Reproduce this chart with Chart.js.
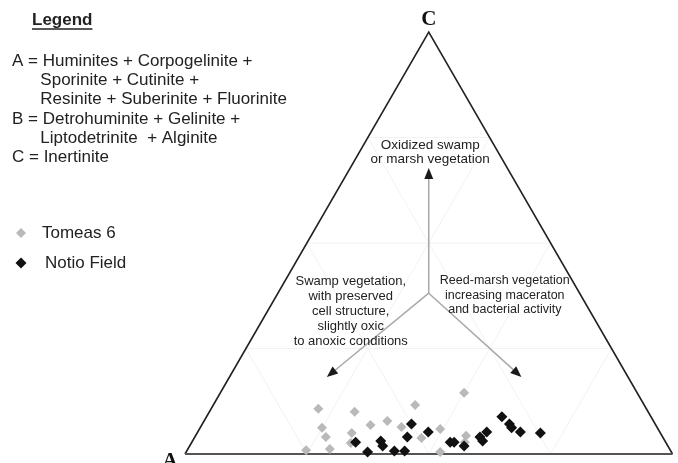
<!DOCTYPE html>
<html>
<head>
<meta charset="utf-8">
<script src="https://cdn.jsdelivr.net/npm/chart.js@4"></script>
<style>
  html, body { margin: 0; padding: 0; background: #fff; }
  canvas { display: block; }
</style>
</head>
<body>
<canvas id="myChart1" width="678" height="463"></canvas>
<script>
// ternary compositions in % (A, B, C)
const tomeasA = [67.3, 60.2, 68.8, 69.1, 74.7, 69.7, 63.3, 64.7, 58.5, 54.6, 52.4, 47.0, 49.6, 44.7, 47.4, 35.5, 40.2, 41.2];
const tomeasB = [22.0, 29.8, 25.0, 26.9, 24.4, 29.1, 31.7, 32.7, 34.6, 37.6, 41.2, 41.4, 46.6, 49.4, 52.1, 50.0, 55.5, 56.0];
const tomeasC = [10.7, 10.0, 6.2, 4.0, 0.9, 1.2, 5.0, 2.6, 6.9, 7.8, 6.4, 11.6, 3.8, 5.9, 0.5, 14.5, 4.3, 2.8];

const notioA = [63.6, 62.3, 58.3, 58.5, 56.7, 54.6, 50.0, 52.4, 47.5, 44.2, 43.4, 41.8, 37.5, 37.4, 35.5, 30.6, 29.9, 29.9, 28.6, 24.6];
const notioB = [33.6, 37.2, 38.6, 39.6, 42.6, 44.7, 42.9, 43.6, 47.3, 53.0, 53.8, 56.3, 58.5, 59.5, 59.3, 60.6, 63.0, 63.9, 66.2, 70.4];
const notioC = [2.8, 0.5, 3.1, 1.9, 0.7, 0.7, 7.1, 4.0, 5.2, 2.8, 2.8, 1.9, 4.0, 3.1, 5.2, 8.8, 7.1, 6.2, 5.2, 5.0];

const seriesNames = ['Tomeas 6', 'Notio Field'];
const cornerLabels = ['A', 'B', 'C'];

const legendLines = [
    'A = Huminites + Corpogelinite +',
    '      Sporinite + Cutinite +',
    '      Resinite + Suberinite + Fluorinite',
    'B = Detrohuminite + Gelinite +',
    '      Liptodetrinite  + Alginite',
    'C = Inertinite'
];
const noteTop = ['Oxidized swamp', 'or marsh vegetation'];
const noteLeft = ['Swamp vegetation,', 'with preserved', 'cell structure,', 'slightly oxic', 'to anoxic conditions'];
const noteRight = ['Reed-marsh vegetation', 'increasing maceraton', 'and bacterial activity'];

const H = Math.sqrt(3) / 2;

// A at (0,0), B at (100,0), C at (50, 86.6)
function toXY(a, b, c) {
    return a.map((v, i) => {
        const t = a[i] + b[i] + c[i];
        const bb = b[i] / t * 100, cc = c[i] / t * 100;
        return { x: bb + cc / 2, y: cc * H };
    });
}
function tern(a, b, c) {
    return { x: b + c / 2, y: c * H };
}

const ternaryPlugin = {
    id: 'ternary',
    beforeDatasetsDraw(chart) {
        const ctx = chart.ctx;
        const xs = chart.scales.x, ys = chart.scales.y;
        const px = p => [xs.getPixelForValue(p.x), ys.getPixelForValue(p.y)];
        ctx.save();

        // faint grid
        ctx.strokeStyle = '#f2f2f2';
        ctx.lineWidth = 1;
        [25, 50, 75].forEach(f => {
            const pairs = [
                [tern(100 - f, 0, f), tern(0, 100 - f, f)],
                [tern(f, 100 - f, 0), tern(f, 0, 100 - f)],
                [tern(100 - f, f, 0), tern(0, f, 100 - f)]
            ];
            pairs.forEach(([p, q]) => {
                const a = px(p), b = px(q);
                ctx.beginPath(); ctx.moveTo(a[0], a[1]); ctx.lineTo(b[0], b[1]); ctx.stroke();
            });
        });

        // triangle
        const pA = px(tern(100, 0, 0)), pB = px(tern(0, 100, 0)), pC = px(tern(0, 0, 100));
        ctx.strokeStyle = '#222';
        ctx.lineWidth = 1.6;
        ctx.beginPath();
        ctx.moveTo(pA[0], pA[1]); ctx.lineTo(pC[0], pC[1]); ctx.lineTo(pB[0], pB[1]);
        ctx.stroke();
        ctx.strokeStyle = '#555';
        ctx.lineWidth = 2.2;
        ctx.beginPath(); ctx.moveTo(pA[0], pA[1]); ctx.lineTo(pB[0], pB[1]); ctx.stroke();

        // corner labels
        ctx.fillStyle = '#111';
        ctx.font = 'bold 21px "Liberation Serif", serif';
        ctx.textAlign = 'center';
        ctx.textBaseline = 'alphabetic';
        ctx.fillText(cornerLabels[2], pC[0], pC[1] - 7);
        ctx.fillText(cornerLabels[0], pA[0] - 15, pA[1] + 13);

        // arrows
        const centre = px({ x: 50, y: 33 });
        const tips = [px({ x: 50, y: 58.7 }), px({ x: 29.1, y: 15.8 }), px({ x: 69.0, y: 15.8 })];
        tips.forEach(t => {
            const ang = Math.atan2(t[1] - centre[1], t[0] - centre[0]);
            const len = 11, wid = 4.5;
            const bx = t[0] - Math.cos(ang) * len, by = t[1] - Math.sin(ang) * len;
            ctx.strokeStyle = '#a8a8a8';
            ctx.lineWidth = 1.5;
            ctx.beginPath(); ctx.moveTo(centre[0], centre[1]); ctx.lineTo(bx, by); ctx.stroke();
            ctx.fillStyle = '#1a1a1a';
            ctx.beginPath();
            ctx.moveTo(t[0], t[1]);
            ctx.lineTo(bx - Math.sin(ang) * wid, by + Math.cos(ang) * wid);
            ctx.lineTo(bx + Math.sin(ang) * wid, by - Math.cos(ang) * wid);
            ctx.closePath();
            ctx.fill();
        });

        // notes
        ctx.fillStyle = '#222';
        ctx.textBaseline = 'middle';
        ctx.textAlign = 'center';
        ctx.font = '13.5px "Liberation Sans", Arial, sans-serif';
        let p = px({ x: 50.3, y: 63.4 });
        noteTop.forEach((s, i) => ctx.fillText(s, p[0], p[1] + i * 14));
        ctx.font = '13px "Liberation Sans", Arial, sans-serif';
        p = px({ x: 34.0, y: 35.5 });
        noteLeft.forEach((s, i) => ctx.fillText(s, p[0], p[1] + i * 15));
        ctx.font = '12.5px "Liberation Sans", Arial, sans-serif';
        p = px({ x: 65.6, y: 35.5 });
        noteRight.forEach((s, i) => ctx.fillText(s, p[0], p[1] + i * 14.5));

        // legend block
        ctx.textAlign = 'left';
        ctx.fillStyle = '#222';
        ctx.font = 'bold 17px "Liberation Sans", Arial, sans-serif';
        ctx.fillText('Legend', 32, 20);
        const w = ctx.measureText('Legend').width;
        ctx.strokeStyle = '#222';
        ctx.lineWidth = 1.3;
        ctx.beginPath(); ctx.moveTo(32, 29); ctx.lineTo(32 + w, 29); ctx.stroke();

        ctx.font = '17px "Liberation Sans", Arial, sans-serif';
        legendLines.forEach((s, i) => ctx.fillText(s, 12, 61 + i * 19.3));

        chart.data.datasets.forEach((ds, i) => {
            const y = 233 + i * 30;
            const r = ds.pointRadius;
            ctx.fillStyle = ds.backgroundColor;
            ctx.beginPath();
            ctx.moveTo(21, y - r); ctx.lineTo(21 + r, y);
            ctx.lineTo(21, y + r); ctx.lineTo(21 - r, y);
            ctx.closePath(); ctx.fill();
            ctx.fillStyle = '#222';
            ctx.fillText(ds.label, 42 + i * 3, y);
        });

        ctx.restore();
    }
};

const data = {
    datasets: [{
        label: seriesNames[0],
        data: toXY(tomeasA, tomeasB, tomeasC),
        pointStyle: 'rectRot',
        pointRadius: 5,
        backgroundColor: '#b9b9b9',
        borderColor: '#b9b9b9',
        borderWidth: 0,
        order: 1
    }, {
        label: seriesNames[1],
        data: toXY(notioA, notioB, notioC),
        pointStyle: 'rectRot',
        pointRadius: 5.5,
        backgroundColor: '#111',
        borderColor: '#111',
        borderWidth: 0,
        order: 0
    }]
};

const config = {
    type: 'scatter',
    data: data,
    plugins: [ternaryPlugin],
    options: {
        responsive: false,
        animation: false,
        devicePixelRatio: 1,
        clip: false,
        layout: { padding: { left: 185, right: 2, top: 32, bottom: 9 } },
        plugins: { legend: { display: false }, tooltip: { enabled: false } },
        scales: {
            x: { type: 'linear', min: 0, max: 100, display: false },
            y: { type: 'linear', min: 0, max: 100 * H, display: false }
        }
    }
};

const myChart1 = new Chart(document.getElementById('myChart1'), config);
</script>
</body>
</html>
